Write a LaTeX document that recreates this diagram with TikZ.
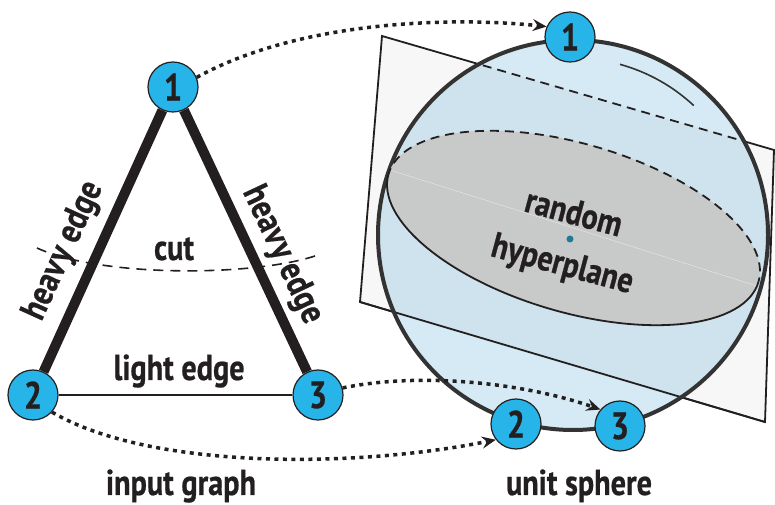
\documentclass[tikz,border=0pt]{standalone}
\usepackage{fontspec}
\setmainfont{PT Sans}[FakeStretch=0.84, BoldFeatures={FakeBold=0.6}]
\usepackage{tikz}
\usetikzlibrary{arrows.meta}
\definecolor{nodecyan}{HTML}{27B5E9}
\definecolor{ink}{HTML}{231F20}
\definecolor{ring}{HTML}{333333}
\definecolor{spherefill}{HTML}{D5EAF4}
\definecolor{planefill}{HTML}{F7F7F7}
\definecolor{planein}{HTML}{CEE3ED}
\definecolor{diskfill}{HTML}{C8C9C9}
\definecolor{dotcol}{HTML}{1F7A94}

\begin{document}
\begin{tikzpicture}[x=1pt, y=1pt,
  vertex/.style={circle, draw=ink, line width=1.2pt, fill=nodecyan, minimum size=50pt,
    inner sep=0pt, text=ink, font=\fontsize{38}{38}\selectfont\bfseries},
  heavy/.style={draw=ink, line width=10pt},
  light/.style={draw=ink, line width=1.8pt},
  planeline/.style={draw=ink, line width=1.8pt},
  backline/.style={draw=ink, line width=1.8pt, dash pattern=on 9pt off 6pt},
  lbl/.style={font=\fontsize{36}{38}\selectfont\bfseries, text=ink, inner sep=0pt},
  maparr/.style={draw=ink, line width=3.5pt, dash pattern=on 4pt off 4.5pt,
    -{Stealth[length=14pt, width=12pt, inset=5pt]}}
]
\useasboundingbox (0,0) rectangle (775,505);

% plane and sphere
\coordinate (pTL) at (382,469);
\coordinate (pTR) at (774,355);
\coordinate (pBR) at (765,83);
\coordinate (pBL) at (360,203);
\coordinate (ctr) at (573,270);
\draw[planeline, fill=planefill] (pTL) -- (pTR) -- (pBR) -- (pBL) -- cycle;
\fill[spherefill] (ctr) circle[radius=195];
\begin{scope}
  \clip (ctr) circle[radius=195];
  \fill[planein] (pTL) -- (pTR) -- (pBR) -- (pBL) -- cycle;
  \draw[backline] (pTL) -- (pTR);
\end{scope}
\draw[planeline] (pBL) -- (pBR);
\draw[ring, line width=4pt] (ctr) circle[radius=195];
\draw[ring, line width=1.6pt] (ctr) ++(74.6:177) arc[start angle=74.6, end angle=47, radius=177];

% cross-section disk
\begin{scope}[shift={(573.5,277)}, cm={183.5,-58,33,78,(0,0)}]
  \fill[diskfill] (0,0) circle[radius=1];
  \draw[white, opacity=.6, line width=.4pt] (-1,0) -- (1,0);
  \draw[backline] (1,0) arc[start angle=0, end angle=180, radius=1];
  \draw[light] (-1,0) arc[start angle=180, end angle=360, radius=1];
\end{scope}
\fill[dotcol] (570,266) circle[radius=3.5];
\node[lbl, rotate=-15] (rnd) at (574,293) {random};
\node[lbl, rotate=-15] (hyp) at (562,239) {hyperplane};

\node[vertex] (s1) at (570,468) {1};
\node[vertex] (s2) at (516,81) {2};
\node[vertex] (s3) at (620,79) {3};

% input graph
\node[vertex] (n1) at (173,418) {1};
\node[vertex] (n2) at (33,110) {2};
\node[vertex] (n3) at (318,110) {3};
\draw[heavy] (n1) -- (n2);
\draw[heavy] (n1) -- (n3);
\draw[light] (n2) -- (n3);
\coordinate (cutL) at (37,257);
\coordinate (cutR) at (315,249);
\draw[ink, line width=1.6pt, dash pattern=on 10pt off 7pt] (cutL) .. controls (100,228) and (250,228) .. (cutR);

\node[lbl, rotate=65.6] (hl) at (64,254) {heavy edge};
\node[lbl, rotate=-64.8] (hr) at (282,250) {heavy edge};
\node[lbl, anchor=base] (cut) at (174,245) {cut};
\node[lbl, anchor=base] (le) at (179,125) {light edge};
\node[lbl, anchor=base] (ig) at (181,10) {input graph};
\node[lbl, anchor=base] (us) at (579,10) {unit sphere};

% mapping onto the sphere
\draw[maparr] (n1.22) .. controls +(103,57) and +(-93,10) .. (s1.156);
\draw[maparr] (n3.16) .. controls +(77,16) and +(-77,27) .. (s3.140);
\draw[maparr] (n2.-42) .. controls +(97,-57) and +(-144,-29) .. (s2.218);
\end{tikzpicture}
\end{document}
